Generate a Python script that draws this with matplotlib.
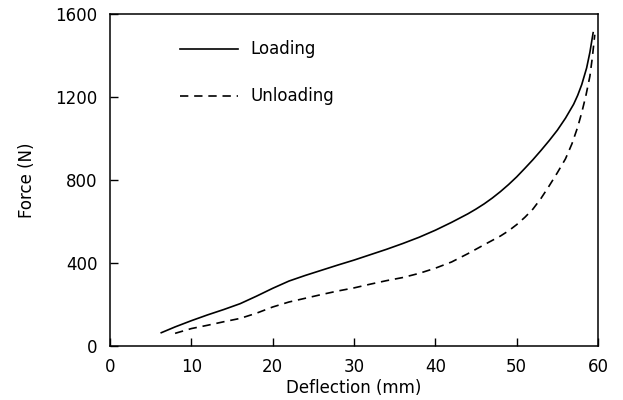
import matplotlib
matplotlib.use("Agg")
import matplotlib.pyplot as plt

# Force-deflection hysteresis data
load_x = [6.3, 8, 10, 12, 14, 16, 18, 20, 22, 24, 26, 28, 30, 32, 34, 36, 38, 40,
          42, 44, 45, 46, 47, 48, 49, 50, 51, 52, 53, 54, 55, 56, 57, 57.5, 58,
          58.6, 59, 59.4]
load_f = [64, 92, 122, 150, 176, 204, 240, 278, 313, 340, 365, 390, 414, 440, 466,
          494, 524, 558, 596, 637, 660, 685, 713, 744, 778, 815, 856, 898, 943, 990,
          1040, 1098, 1165, 1208, 1260, 1340, 1415, 1510]

unload_x = [8, 10, 12, 14, 16, 18, 20, 22, 24, 26, 28, 30, 32, 34, 36, 38, 40, 42,
            44, 46, 48, 49, 50, 51, 52, 53, 54, 55, 56, 56.8, 57.5, 58, 58.5, 59,
            59.3, 59.6]
unload_f = [61, 84, 100, 117, 133, 158, 188, 212, 230, 248, 265, 280, 298, 315, 330,
            350, 375, 405, 445, 488, 530, 555, 585, 620, 660, 712, 772, 835, 902, 975,
            1055, 1125, 1205, 1300, 1390, 1500]

x_ticks = [0, 10, 20, 30, 40, 50, 60]
y_ticks = [0, 400, 800, 1200, 1600]

plt.rcParams["font.family"] = ["DejaVu Sans"]

fig = plt.figure(figsize=(6.23, 4.0), dpi=100)
ax = fig.add_axes([0.1766, 0.135, 0.7833, 0.83])

ax.plot(load_x, load_f, color="black", lw=1.2, label="Loading")
ax.plot(unload_x, unload_f, color="black", lw=1.2, linestyle=(0, (5, 3.5)),
        label="Unloading")

ax.set_xlim(0, 60)
ax.set_ylim(0, 1600)
ax.set_xticks(x_ticks)
ax.set_yticks(y_ticks)
ax.tick_params(direction="in", length=6, width=1, labelsize=12, pad=9,
               top=False, right=False)
for s in ax.spines.values():
    s.set_linewidth(1.1)

ax.set_xlabel("Deflection (mm)", fontsize=12, labelpad=2)
ax.set_ylabel("Force (N)", fontsize=12, labelpad=14)

# Legend entries drawn in data coordinates
ax.plot([8.6, 15.7], [1431, 1431], color="black", lw=1.2)
ax.plot([8.6, 15.7], [1205, 1205], color="black", lw=1.2, linestyle=(0, (5, 3.5)))
ax.text(17.3, 1431, "Loading", fontsize=12, va="center", ha="left")
ax.text(17.3, 1205, "Unloading", fontsize=12, va="center", ha="left")

fig.savefig("out.png", dpi=100)
